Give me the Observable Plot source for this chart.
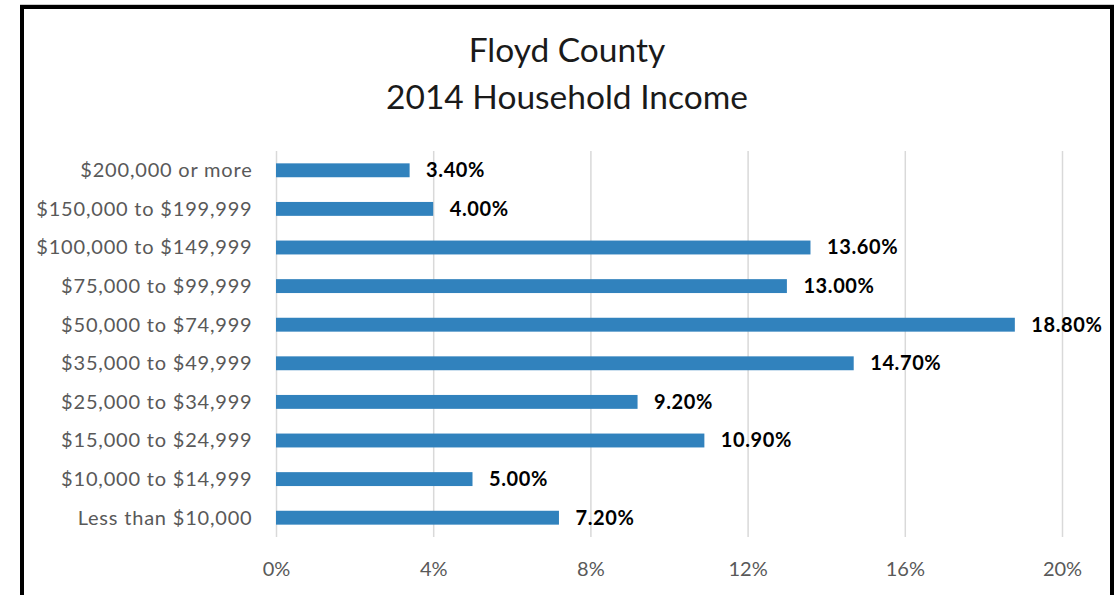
<!DOCTYPE html>
<html>
<head>
<meta charset="utf-8">
<script src="https://cdn.jsdelivr.net/npm/d3@7"></script>
<script src="https://cdn.jsdelivr.net/npm/@observablehq/plot@0.6"></script>
<style>
  html, body { margin: 0; padding: 0; background: #fff; }
  #wrap { position: relative; width: 1116px; height: 595px; overflow: hidden; font-family: Lato, "Open Sans", sans-serif; }
  #frame { position: absolute; left: 20px; top: 5px; width: 1094px; height: 620px; box-sizing: border-box; border: 4px solid #000; box-shadow: 0 -1px 0 #ccc; }
  #title { position: absolute; left: 20px; width: 1094px; top: 26px; text-align: center; font-size: 33.5px; line-height: 47px; color: #1a1a1a; font-weight: 400; }
  #chart { position: absolute; left: 0; top: 0; }
</style>
</head>
<body>
<div id="wrap">
  <div id="frame"></div>
  <div id="chart"></div>
  <div id="title">Floyd County<br>2014 Household Income</div>
</div>
<script>
const categories = [
  "$200,000 or more",
  "$150,000 to $199,999",
  "$100,000 to $149,999",
  "$75,000 to $99,999",
  "$50,000 to $74,999",
  "$35,000 to $49,999",
  "$25,000 to $34,999",
  "$15,000 to $24,999",
  "$10,000 to $14,999",
  "Less than $10,000"
];
const values = [3.4, 4.0, 13.6, 13.0, 18.8, 14.7, 9.2, 10.9, 5.0, 7.2];
const xTicks = [0, 4, 8, 12, 16, 20];

const data = categories.map((c, i) => ({category: c, value: values[i]}));

const chart = Plot.plot({
  width: 1116,
  height: 595,
  marginTop: 151,
  marginBottom: 58,
  marginLeft: 276,
  marginRight: 54,
  style: {fontFamily: "Lato, 'Open Sans', sans-serif", background: "transparent"},
  x: {domain: [0, 20], ticks: xTicks, tickFormat: d => d + "%", round: false},
  y: {domain: categories, paddingInner: 0.64, paddingOuter: 0.32, round: false},
  marks: [
    Plot.ruleX(xTicks, {stroke: "#d9d9d9", strokeWidth: 1.5}),
    Plot.barX(data, {x: "value", y: "category", fill: "#3182BD"}),
    Plot.text(data, {x: "value", y: "category", text: d => d.value.toFixed(2) + "%", textAnchor: "start", dx: 16, fontWeight: "bold", fontSize: 20, fill: "#000", style: "letter-spacing:0.6px"}),
    Plot.axisX({ticks: xTicks, tickFormat: d => d + "%", tickSize: 0, tickPadding: 24, fontSize: 20, fill: "#595959", label: null}),
    Plot.axisY({tickSize: 0, tickPadding: 24, fontSize: 20, fill: "#595959", label: null})
  ]
});
chart.querySelectorAll('[aria-label="y-axis tick label"] text').forEach(t => t.style.letterSpacing = "0.8px");
chart.querySelectorAll('[aria-label="text"] text').forEach(t => t.style.letterSpacing = "0.6px");
document.getElementById("chart").appendChild(chart);
</script>
</body>
</html>
